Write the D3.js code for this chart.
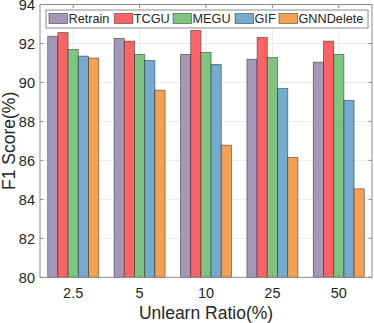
<!DOCTYPE html>
<html>
<head>
<meta charset="utf-8">
<script src="https://cdn.jsdelivr.net/npm/d3@7"></script>
<style>
  body { margin: 0; background: #fff; }
  svg { display: block; font-family: "Liberation Sans", Arial, sans-serif; }
</style>
</head>
<body>
<svg id="chart" width="374" height="323"></svg>
<script>
// data
const ratios = ["2.5", "5", "10", "25", "50"];
const methods = ["Retrain", "TCGU", "MEGU", "GIF", "GNNDelete"];
const retrain = [92.37, 92.26, 91.44, 91.19, 91.04];
const tcgu = [92.56, 92.12, 92.67, 92.31, 92.12];
const megu = [91.69, 91.44, 91.54, 91.28, 91.44];
const gif = [91.35, 91.13, 90.92, 89.69, 89.08];
const gnnDelete = [91.25, 89.6, 86.78, 86.15, 84.54];
const yTicks = [80, 82, 84, 86, 88, 90, 92, 94];

const series = [retrain, tcgu, megu, gif, gnnDelete];
const colors = ["#A498B8", "#FF6366", "#7FC580", "#73ABD1", "#F5A152"];

const svg = d3.select("#chart");
const mLeft = 40, mRight = 372, mTop = 4.5, mBottom = 277.3;

let x = d3.scaleBand()
    .domain(ratios)
    .range([mLeft, mRight])
    .paddingInner(0.232)
    .paddingOuter(0.116);

let xInner = d3.scaleBand()
    .domain(methods)
    .range([0, x.bandwidth()]);

let y = d3.scaleLinear()
    .domain([80, 94])
    .range([mBottom, mTop]);

// grid
svg.append("g")
    .selectAll("line")
    .data(yTicks.slice(1, -1))
    .enter().append("line")
    .attr("x1", mLeft).attr("x2", mRight)
    .attr("y1", d => y(d)).attr("y2", d => y(d))
    .attr("stroke", "#ebebeb").attr("stroke-width", 1);

svg.append("g")
    .selectAll("line")
    .data(ratios)
    .enter().append("line")
    .attr("x1", d => x(d) + x.bandwidth() / 2).attr("x2", d => x(d) + x.bandwidth() / 2)
    .attr("y1", mTop).attr("y2", mBottom)
    .attr("stroke", "#ebebeb").attr("stroke-width", 1);

// bars
let groups = svg.append("g")
    .selectAll("g")
    .data(ratios)
    .enter().append("g")
    .attr("transform", d => `translate(${x(d)},0)`);

groups.selectAll("rect")
    .data((d, i) => methods.map((m, j) => ({ m, v: series[j][i], c: colors[j] })))
    .enter().append("rect")
    .attr("x", d => xInner(d.m))
    .attr("width", xInner.bandwidth())
    .attr("y", d => y(d.v))
    .attr("height", d => y(80) - y(d.v))
    .attr("fill", d => d.c)
    .attr("stroke", "#000")
    .attr("stroke-opacity", 0.45)
    .attr("stroke-width", 0.9);

// box with inward ticks
const axisColor = "#8c8c8c";
svg.append("rect")
    .attr("x", mLeft).attr("y", mTop)
    .attr("width", mRight - mLeft).attr("height", mBottom - mTop)
    .attr("fill", "none").attr("stroke", axisColor).attr("stroke-width", 1);

let tickLen = 3.5;
yTicks.forEach(t => {
    svg.append("line").attr("x1", mLeft).attr("x2", mLeft + tickLen)
        .attr("y1", y(t)).attr("y2", y(t)).attr("stroke", axisColor);
    svg.append("line").attr("x1", mRight).attr("x2", mRight - tickLen)
        .attr("y1", y(t)).attr("y2", y(t)).attr("stroke", axisColor);
});
ratios.forEach(r => {
    let cx = x(r) + x.bandwidth() / 2;
    svg.append("line").attr("x1", cx).attr("x2", cx)
        .attr("y1", mBottom).attr("y2", mBottom - tickLen).attr("stroke", axisColor);
    svg.append("line").attr("x1", cx).attr("x2", cx)
        .attr("y1", mTop).attr("y2", mTop + tickLen).attr("stroke", axisColor);
});

// tick labels
svg.append("g")
    .selectAll("text")
    .data(yTicks)
    .enter().append("text")
    .attr("x", mLeft - 5)
    .attr("y", d => y(d))
    .attr("dy", "0.36em")
    .attr("text-anchor", "end")
    .attr("font-size", 14.5)
    .attr("fill", "#262626")
    .text(d => d);

svg.append("g")
    .selectAll("text")
    .data(ratios)
    .enter().append("text")
    .attr("x", d => x(d) + x.bandwidth() / 2)
    .attr("y", 298)
    .attr("text-anchor", "middle")
    .attr("font-size", 14.5)
    .attr("fill", "#262626")
    .text(d => d);

// axis titles
svg.append("text")
    .attr("x", (mLeft + mRight) / 2)
    .attr("y", 318.5)
    .attr("text-anchor", "middle")
    .attr("font-size", 17.5)
    .attr("fill", "#262626")
    .text("Unlearn Ratio(%)");

svg.append("text")
    .attr("transform", `translate(14.5,${(mTop + mBottom) / 2}) rotate(-90)`)
    .attr("text-anchor", "middle")
    .attr("font-size", 17.5)
    .attr("fill", "#262626")
    .text("F1 Score(%)");

// legend
svg.append("rect")
    .attr("x", 46).attr("y", 10)
    .attr("width", 322).attr("height", 18)
    .attr("fill", "#fff").attr("stroke", axisColor).attr("stroke-width", 1);

const legendX = [49, 114.3, 173, 235, 279];
methods.forEach((m, i) => {
    svg.append("rect")
        .attr("x", legendX[i]).attr("y", 13.5)
        .attr("width", 18.5).attr("height", 10)
        .attr("fill", colors[i]).attr("stroke", "#000")
        .attr("stroke-opacity", 0.45).attr("stroke-width", 0.9);
    svg.append("text")
        .attr("x", legendX[i] + 19.5).attr("y", 23.3)
        .attr("font-size", 12.7)
        .attr("fill", "#262626")
        .text(m);
});
</script>
</body>
</html>
